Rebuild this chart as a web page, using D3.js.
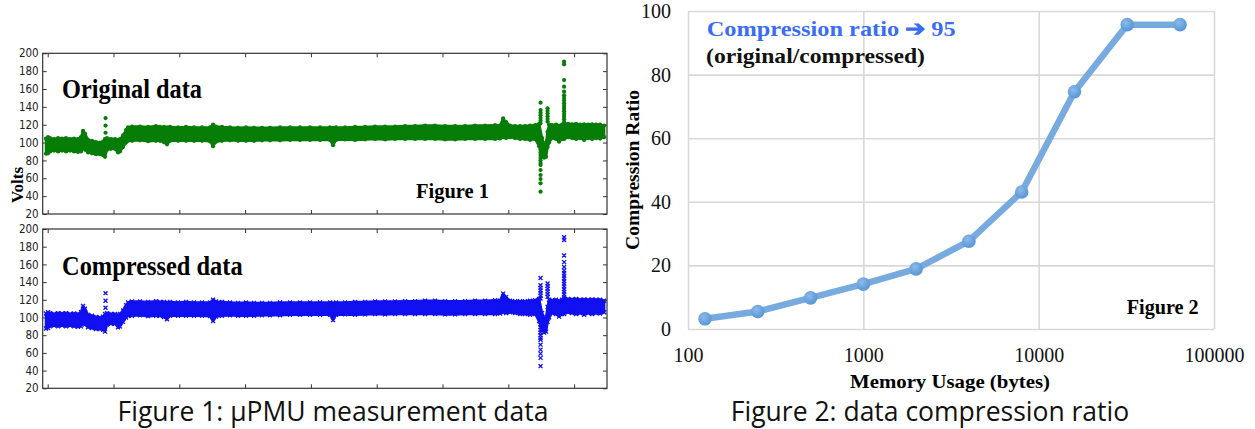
<!DOCTYPE html>
<html lang="en">
<head>
<meta charset="UTF-8">
<title>uPMU measurement data and compression ratio</title>
<script src="https://d3js.org/d3.v7.min.js"></script>
<style>
  body { margin: 0; background: #fff; }
  svg { display: block; }
  .tick-lab text { font-family: "Liberation Sans Narrow", "DejaVu Sans Condensed", "Liberation Sans", sans-serif; font-size: 11.5px; fill: #222; }
  .serif { font-family: "Liberation Serif", "Times New Roman", serif; font-weight: bold; }
  .caption { font-family: "Open Sans", "Noto Sans", sans-serif; font-size: 26.5px; fill: #111; }
</style>
</head>
<body>
<svg id="fig" width="1255" height="429"></svg>
<script>
// ---- Figure 1: voltage band (sample time, low / high envelope) ----
const sampleT = [-26, 5, 35, 96, 157, 217, 278, 339, 400, 461, 506, 537, 567, 613, 673, 734, 795, 841, 871, 901,
  962, 1023, 1069, 1099, 1145, 1190, 1221, 1281, 1403, 1525, 1646, 1707, 1768, 1813, 1859, 1981, 2102, 2224, 2345, 2467,
  2513, 2558, 2649, 2771, 2893, 3014, 3136, 3257, 3379, 3531, 3683, 3835, 3987, 4139, 4291, 4337, 4382, 4519, 4671, 4823,
  4975, 5127, 5279, 5431, 5583, 5735, 5887, 6039, 6191, 6343, 6495, 6647, 6799, 6875, 6921, 6966, 7027, 7103, 7179, 7255,
  7331, 7407, 7468, 7513, 7544, 7574, 7597, 7620, 7665, 7726, 7772, 7817, 7848, 7909, 7969, 8030, 8091, 8152, 8213, 8273,
  8334, 8395, 8456];
const voltLow = [87.5, 88, 90, 91, 90, 91, 90, 91, 90, 89.5, 90, 94, 92, 89, 88, 87, 87, 86, 84, 92,
  93, 93, 89, 90, 95, 100, 102, 102, 102.5, 101.5, 102, 102, 100.5, 98, 102, 102, 102, 102, 102, 101.5,
  96, 101, 102, 102.5, 102, 102, 102, 102.5, 102.5, 102.5, 103, 103, 103, 103, 103, 97, 103, 103.5, 103, 103.5,
  104, 103.5, 104, 104, 104, 104, 104, 103.5, 103.5, 104, 104, 104, 104, 104.5, 106, 105, 106, 105, 104, 104,
  103, 104, 96, 86, 83, 84, 95, 100, 105, 104, 101, 104, 104, 106, 105, 104, 105, 103, 105, 104,
  105, 104.5, 106];
const voltHigh = [104.5, 106, 105, 104, 105, 104.5, 105, 104, 104.5, 104, 106, 113, 110, 103, 102, 100.5, 100, 101, 104, 105,
  104, 104, 103, 104, 108, 114, 117, 118, 118, 117.5, 118.5, 117.5, 117.5, 117, 117.5, 117, 117.5, 117, 117, 117,
  120, 118, 117.5, 117, 116.5, 117, 116.5, 116.5, 116.5, 117, 117, 117, 117, 117, 117, 116.5, 117, 117, 117.5, 117.5,
  118, 118, 118, 118.5, 118.5, 119, 119, 118.5, 118.5, 118.5, 119, 119, 119.5, 119, 127, 123, 119, 118.5, 118.5, 118.5,
  119, 119.5, 121, 105, 98, 100, 112, 120, 119.5, 120, 119, 120, 121, 121, 120.5, 121, 120, 120.5, 120, 120.5,
  120, 120, 119];
// isolated readings outside the band
const spikeTimes = [879, 7490, 7597, 7848];
const spikeVolts = [
  [111, 119, 127.5],
  [144.7, 136.5, 133.5, 130.5, 127.5, 124.5, 121.5, 95, 92, 89, 86, 83, 80, 77, 74.9, 69.3, 63.7, 59.2, 54.4, 45],
  [138.4, 135.5, 132.5, 129.5, 126.5, 123.5],
  [190.6, 187.6, 170, 162.6, 157, 153, 150, 147, 144, 141, 138, 135, 132, 129, 126, 123, 120]
];
const voltTicks = [20, 40, 60, 80, 100, 120, 140, 160, 180, 200];
const timeTicks = [0, 1000, 2000, 3000, 4000, 5000, 6000, 7000, 8000];

// ---- Figure 2: compression ratio vs memory ----
const memBytes = [125, 250, 500, 1000, 2000, 4000, 8000, 16000, 32000, 64000];
const ratio = [3.2, 5.5, 9.8, 14.1, 18.9, 27.6, 43.1, 74.6, 95.7, 95.7];
const memTicks = [100, 1000, 10000, 100000];
const ratioTicks = [0, 20, 40, 60, 80, 100];

const svg = d3.select("#fig");

const band = sampleT.map((t, i) => ({t: t, lo: voltLow[i], hi: voltHigh[i]}));
const spikes = [];
spikeTimes.forEach((t, i) => spikeVolts[i].forEach(v => spikes.push({t: t, v: v})));

function drawPanel(top, bottom, color, useCross, label, labelY, labelW) {
    const x = d3.scaleLinear().domain([-76, 8500]).range([42.7, 607]);
    const y = d3.scaleLinear().domain([20, 200]).range([bottom, top]);
    const g = svg.append("g");

    // axes with inward ticks on every side
    g.append("g").attr("class", "tick-lab")
        .attr("transform", "translate(42.7,0)")
        .call(d3.axisLeft(y).tickValues(voltTicks).tickSizeInner(-4).tickSizeOuter(0).tickPadding(4));
    g.append("g")
        .attr("transform", "translate(607,0)")
        .call(d3.axisRight(y).tickValues(voltTicks).tickSizeInner(-4).tickSizeOuter(0).tickFormat(""));
    g.append("g").attr("transform", "translate(0," + bottom + ")")
        .call(d3.axisBottom(x).tickValues(timeTicks).tickSizeInner(-4).tickSizeOuter(0).tickFormat(""));
    g.append("g").attr("transform", "translate(0," + top + ")")
        .call(d3.axisTop(x).tickValues(timeTicks).tickSizeInner(-4).tickSizeOuter(0).tickFormat(""));
    g.selectAll(".domain").remove();
    g.selectAll(".tick line").attr("stroke", "#333");
    g.append("rect").attr("x", 42.7).attr("y", top).attr("width", 607 - 42.7).attr("height", bottom - top)
        .attr("fill", "none").attr("stroke", "#333").attr("stroke-width", 1.2);

    const area = d3.area().x(d => x(d.t)).y0(d => y(d.lo)).y1(d => y(d.hi));
    g.append("path").datum(band).attr("d", area)
        .attr("fill", color).attr("stroke", color).attr("stroke-width", 2.5).attr("stroke-linejoin", "round");

    const edge = band.flatMap(d => [{t: d.t, v: d.lo}, {t: d.t, v: d.hi}]);
    if (useCross) {
        const sym = d3.symbol().type(d3.symbolTimes).size(12);
        g.selectAll(".edge").data(edge.concat(spikes)).join("path")
            .attr("transform", d => "translate(" + x(d.t) + "," + y(d.v) + ")")
            .attr("d", sym).attr("fill", "none").attr("stroke", color).attr("stroke-width", 1.3);
    } else {
        g.selectAll(".edge").data(edge.concat(spikes)).join("circle")
            .attr("cx", d => x(d.t)).attr("cy", d => y(d.v)).attr("r", 2.1).attr("fill", color);
    }

    g.append("text").attr("class", "serif").attr("x", 62).attr("y", labelY)
        .attr("font-size", 27).attr("textLength", labelW).attr("lengthAdjust", "spacingAndGlyphs")
        .text(label);
    return g;
}

drawPanel(53.3, 214, "#067d06", false, "Original data", 98.3, 140);
drawPanel(229, 388.3, "#1010f0", true, "Compressed data", 275, 180.6);

svg.append("text").attr("class", "serif").attr("x", 416).attr("y", 198.3)
    .attr("font-size", 21).attr("textLength", 73).attr("lengthAdjust", "spacingAndGlyphs").text("Figure 1");
svg.append("text").attr("class", "serif").attr("font-size", 17)
    .attr("transform", "translate(23,185) rotate(-90)").attr("text-anchor", "middle").text("Volts");

// ---- right chart ----
const xR = d3.scaleLog().domain([100, 100000]).range([688, 1214]);
const yR = d3.scaleLinear().domain([0, 100]).range([329, 11]);
const rg = svg.append("g");

rg.append("g").attr("transform", "translate(688,0)")
    .call(d3.axisLeft(yR).tickValues(ratioTicks).tickSize(-(1214 - 688)).tickPadding(17).tickFormat(d3.format("d")));
rg.append("g").attr("transform", "translate(0,329)")
    .call(d3.axisBottom(xR).tickValues(memTicks).tickSize(-(329 - 11)).tickPadding(19).tickFormat(d3.format("d")));
rg.selectAll(".domain").remove();
rg.selectAll(".tick line").attr("stroke", "#d9d9d9").attr("stroke-width", 1.6);
rg.selectAll(".tick text")
    .attr("font-family", "'Liberation Serif', 'Times New Roman', serif")
    .attr("font-size", 20).attr("fill", "#111");

const defs = svg.append("defs");
const grad = defs.append("radialGradient").attr("id", "dotg").attr("cx", "40%").attr("cy", "35%").attr("r", "65%");
grad.append("stop").attr("offset", "0%").attr("stop-color", "#8cbbe8");
grad.append("stop").attr("offset", "100%").attr("stop-color", "#5595d6");

const pts = memBytes.map((m, i) => ({m: m, r: ratio[i]}));
rg.append("path").datum(pts)
    .attr("d", d3.line().x(d => xR(d.m)).y(d => yR(d.r)))
    .attr("fill", "none").attr("stroke", "#77abe0").attr("stroke-width", 6.5).attr("stroke-linejoin", "round");
rg.selectAll(".pt").data(pts).join("circle")
    .attr("cx", d => xR(d.m)).attr("cy", d => yR(d.r)).attr("r", 6.8).attr("fill", "url(#dotg)");

rg.append("text").attr("class", "serif").attr("x", 706.7).attr("y", 36).attr("font-size", 22)
    .attr("fill", "#3a6df5").attr("textLength", 249).attr("lengthAdjust", "spacingAndGlyphs")
    .text("Compression ratio \u2794 95");
rg.append("text").attr("class", "serif").attr("x", 706).attr("y", 63).attr("font-size", 21)
    .attr("fill", "#111").attr("textLength", 219).attr("lengthAdjust", "spacingAndGlyphs")
    .text("(original/compressed)");
rg.append("text").attr("class", "serif").attr("x", 1126.7).attr("y", 314.3).attr("font-size", 20)
    .attr("textLength", 72).attr("lengthAdjust", "spacingAndGlyphs").text("Figure 2");
rg.append("text").attr("class", "serif").attr("x", 850).attr("y", 388.3).attr("font-size", 18)
    .attr("textLength", 200).attr("lengthAdjust", "spacingAndGlyphs").text("Memory Usage (bytes)");
rg.append("text").attr("class", "serif").attr("font-size", 18)
    .attr("transform", "translate(639,170) rotate(-90)").attr("text-anchor", "middle")
    .attr("textLength", 160).attr("lengthAdjust", "spacingAndGlyphs").text("Compression Ratio");

// captions
svg.append("text").attr("class", "caption").attr("x", 333).attr("y", 421).attr("text-anchor", "middle")
    .text("Figure 1: \u03bcPMU measurement data");
svg.append("text").attr("class", "caption").attr("x", 930).attr("y", 421).attr("text-anchor", "middle")
    .text("Figure 2: data compression ratio");
</script>
</body>
</html>
